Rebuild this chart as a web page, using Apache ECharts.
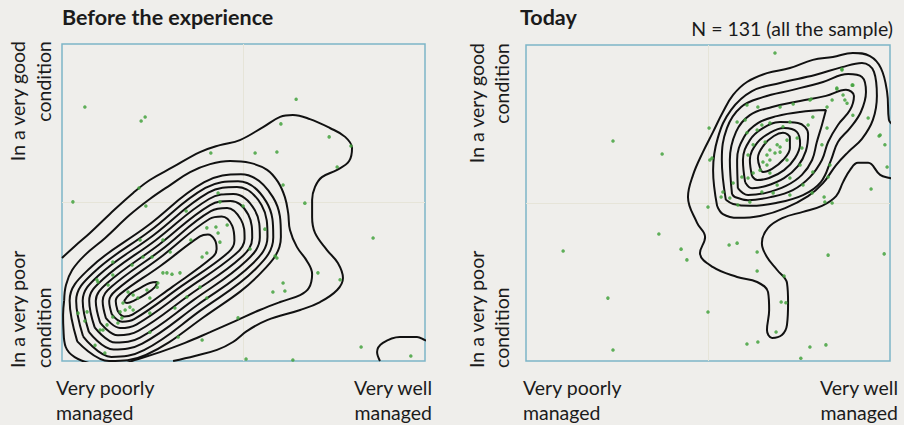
<!DOCTYPE html>
<html>
<head>
<meta charset="utf-8">
<script src="https://cdn.jsdelivr.net/npm/echarts@6/dist/echarts.min.js"></script>
<style>
html,body{margin:0;padding:0;background:#efeeeb;}
#chart{width:904px;height:425px;}
</style>
</head>
<body>
<div id="chart"></div>
<script>
// ---- Text ----
const leftTitle = 'Before the experience';
const rightTitle = 'Today';
const sampleNote = 'N = 131 (all the sample)';
const yTopLines = ['In a very good', 'condition'];
const yBottomLines = ['In a very poor', 'condition'];
const xLeftLines = ['Very poorly', 'managed'];
const xRightLines = ['Very well', 'managed'];

// ---- Scatter points (0-100 scale on both axes) ----
const beforePoints = [[6.3,80.1],[21.8,75.7],[22.9,77.0],[64.5,82.6],[60.3,74.8],[73.6,70.7],[79.6,67.8],[41.0,65.6],[53.2,65.6],[59.2,65.9],[75.8,61.2],[60.9,55.5],[21.2,54.6],[3.0,50.2],[23.1,48.9],[43.0,53.0],[43.5,50.2],[34.2,47.3],[49.9,48.9],[66.9,49.8],[85.7,38.8],[55.9,41.6],[39.9,42.0],[42.4,42.3],[43.0,40.4],[45.5,42.9],[51.8,35.3],[58.7,33.1],[59.2,32.5],[70.5,27.8],[76.6,25.6],[60.9,24.6],[58.1,21.8],[61.4,22.1],[38.0,23.3],[35.5,38.2],[43.5,37.5],[39.9,34.1],[38.6,32.8],[24.8,32.8],[27.8,38.2],[21.5,38.2],[14.0,27.1],[9.6,25.6],[19.3,30.3],[27.8,27.8],[28.9,27.8],[32.5,27.8],[26.2,23.3],[18.2,21.8],[16.8,18.3],[19.6,16.1],[24.2,15.1],[31.1,16.7],[34.4,20.2],[39.9,19.9],[48.5,13.6],[4.4,15.1],[6.9,15.5],[6.3,12.6],[10.5,9.8],[9.1,5.0],[11.8,2.5],[38.6,6.6],[24.2,9.1],[50.7,0.6],[63.6,0.3],[82.4,4.4],[96.1,1.6],[23.4,22.4],[19.6,20.8],[14.0,31.2],[22.3,32.8],[29.8,34.4],[30.3,27.4],[26.4,24.6],[24.2,19.9],[20.9,19.9],[18.7,17.0],[17.4,16.1],[16.0,15.5],[14.0,13.9],[16.5,13.6],[15.4,12.0],[12.4,11.4],[32.0,7.6],[9.9,24.9],[12.7,24.0],[11.3,9.8]];

const todayPoints = [[68.4,97.5],[23.9,69.6],[37.4,65.5],[50.3,73.7],[86.8,92.4],[85.4,86.1],[87.1,84.2],[89.8,87.3],[87.6,82.6],[78.3,82.9],[94.0,76.9],[97.0,71.2],[98.6,68.4],[99.2,61.4],[94.8,54.4],[84.1,50.0],[82.1,50.3],[36.5,40.2],[42.6,35.4],[44.2,32.0],[55.8,36.7],[58.0,37.3],[63.5,34.5],[63.5,28.5],[70.9,26.9],[83.0,33.5],[98.4,33.9],[10.2,34.8],[22.5,19.9],[23.9,3.5],[50.0,15.5],[70.1,18.7],[71.4,18.4],[68.7,9.2],[60.7,5.4],[63.7,6.0],[75.5,0.9],[78.0,4.4],[82.4,5.1],[50.0,48.7],[53.6,51.9],[50.5,63.6],[51.1,64.2],[60.7,81.0],[63.7,80.4],[69.8,80.4],[73.4,81.3],[78.0,82.6],[78.8,77.2],[82.7,80.4],[84.1,82.6],[85.4,86.4],[88.2,81.6],[89.6,87.3],[89.8,77.8],[86.8,92.1],[97.3,71.5],[81.9,51.9],[64.8,74.7],[67.0,75.3],[70.6,74.1],[77.5,74.7],[82.7,73.7],[60.7,72.2],[65.7,69.3],[69.0,68.4],[69.8,67.7],[71.7,69.9],[67.0,66.8],[66.2,65.2],[68.4,65.8],[69.8,66.1],[67.0,63.6],[65.1,63.0],[66.2,62.0],[64.3,60.4],[62.4,59.5],[67.0,59.5],[61.0,57.9],[59.3,58.2],[56.9,56.3],[54.1,53.5],[56.0,51.6],[58.2,49.4],[61.5,50.3],[64.8,53.5],[69.0,55.7],[72.5,57.9],[75.3,62.0],[78.8,59.8],[75.8,67.4],[74.5,70.6],[71.7,63.6],[62.4,68.4],[61.0,65.2],[63.5,73.1],[60.2,76.3],[58.0,75.6],[72.5,75.6],[81.3,68.4],[83.5,62.0],[83.0,58.2],[76.1,55.7],[78.6,53.2],[72.5,52.5],[67.9,53.2]];

// ---- Density contour lines, "Before the experience" (traced, same 0-100 scale) ----
const beforeLevel1 = [[17.1,18.9],[18.7,21.1],[21.5,23.0],[24.2,24.6],[26.2,24.9],[25.6,23.3],[23.1,21.1],[20.1,19.2],[17.9,18.3],[17.1,18.9]];
const beforeLevel2 = [[15.3,15.9],[14.8,18.9],[16.0,21.1],[27.0,29.9],[38.0,39.3],[40.2,39.9],[42.1,38.2],[42.6,35.3],[41.4,32.7],[30.4,23.4],[19.4,14.6],[17.2,14.0],[15.3,15.9]];
const beforeLevel3 = [[13.7,14.8],[13.0,18.9],[14.8,22.2],[27.7,33.2],[40.6,44.8],[44.0,45.6],[46.9,42.6],[47.5,37.9],[45.8,34.2],[32.9,23.6],[19.9,13.2],[16.6,12.4],[13.7,14.8]];
const beforeLevel4 = [[12.1,13.5],[11.2,18.9],[13.6,23.4],[27.3,35.0],[41.0,47.3],[45.5,48.3],[49.3,44.6],[50.3,38.5],[47.9,33.8],[34.2,22.5],[20.5,11.5],[16.0,10.4],[12.1,13.5]];
const beforeLevel5 = [[10.5,12.1],[9.3,18.9],[12.4,24.5],[26.6,36.6],[40.8,49.2],[46.4,50.5],[51.3,46.2],[52.4,38.8],[49.4,32.7],[35.2,20.9],[21.0,9.5],[15.4,8.1],[10.5,12.1]];
const beforeLevel6 = [[9.0,10.6],[7.5,19.0],[11.2,25.7],[25.8,38.1],[40.5,51.1],[47.2,52.7],[53.1,47.6],[54.5,39.0],[50.8,31.6],[36.2,19.2],[21.5,7.4],[14.8,5.8],[9.0,10.6]];
const beforeLevel7 = [[7.4,9.2],[5.7,19.0],[9.9,26.8],[25.1,39.6],[40.3,53.1],[48.2,54.9],[55.0,49.1],[56.6,39.2],[52.4,30.6],[37.2,17.6],[22.1,5.5],[14.2,3.6],[7.4,9.2]];
const beforeLevel8 = [[5.8,7.8],[3.9,19.0],[8.8,28.0],[24.2,41.0],[39.5,54.6],[48.5,56.7],[56.3,50.2],[58.2,39.0],[53.4,29.1],[38.0,15.8],[22.6,3.4],[13.6,1.3],[5.8,7.8]];
const beforeLevel9 = [[4.2,6.2],[2.1,19.1],[7.6,29.2],[23.4,42.5],[39.2,56.4],[49.3,58.9],[58.1,51.7],[60.3,39.1],[54.8,27.8],[39.0,13.8],[23.1,1.9],[13.0,0.0],[4.2,6.2]];
const beforeLevel10 = [[0.6,19.2],[1.1,24.0],[2.8,28.7],[6.3,33.4],[11.9,38.8],[18.7,46.1],[24.2,51.1],[29.8,55.5],[35.3,59.6],[40.8,62.1],[46.3,63.1],[51.8,62.5],[56.5,60.3],[59.5,56.5],[61.4,51.7],[62.3,46.7],[62.8,41.3],[64.7,36.0],[67.5,31.5],[68.9,27.4],[68.0,23.0],[65.6,20.8],[60.1,18.6],[54.5,16.1],[47.7,12.6],[40.8,9.1],[33.9,5.7],[27.0,2.8],[20.0,0.3],[14.0,-1.8],[8.0,-0.8],[3.5,1.2],[1.0,4.5],[0.4,10.0],[0.3,14.5],[0.6,19.2]];
const beforeLevel11 = [[0,32.5],[3.6,36.3],[7.7,40.4],[13.2,46.4],[19.6,53.0],[24.2,57.1],[30.6,61.2],[38.0,65.9],[43.5,68.1],[49.0,69.7],[55.4,73.8],[60.1,77.0],[63.6,77.6],[68.3,76.3],[73.8,73.5],[78.0,70.7],[79.9,67.2],[79.1,63.1],[75.8,60.3],[71.6,58.0],[69.7,54.9],[68.9,50.8],[68.9,45.4],[69.7,40.4],[73.0,35.0],[76.0,30.9],[77.4,26.2],[75.8,22.4],[71.1,18.6],[65.6,16.1],[56.5,12.9],[51.0,9.5],[47.1,6.0],[42.7,3.5],[36.6,1.6],[30.6,0]];
const beforeLevel11b = [[87.6,0],[86.8,2.8],[88.4,5.7],[93.1,7.6],[97.8,7.6],[100,6.6],[101,6.2]];

// ---- Density contour lines, "Today" ----
const todayLevel1 = [[64.3,61.1],[63.7,64.2],[65.4,68.4],[68.1,71.2],[70.6,72.2],[72.5,70.6],[72.5,67.4],[70.6,63.6],[67.6,60.8],[65.1,59.8],[64.3,61.1]];
const todayLevel2 = [[62.1,58.5],[61.5,63.6],[63.5,69.0],[67.0,72.2],[70.9,73.7],[74.4,72.5],[75.3,68.7],[73.9,64.2],[70.9,60.4],[66.8,57.9],[63.5,57.3],[62.1,58.5]];
const todayLevel3 = [[60.2,56.6],[59.6,63.6],[61.5,69.9],[65.1,73.7],[69.8,75.6],[74.7,75.3],[77.5,71.8],[76.9,66.5],[74.7,61.7],[70.9,57.9],[65.9,55.4],[62.1,54.7],[60.2,56.6]];
const todayLevel4 = [[58.2,54.7],[58.0,63.6],[59.9,70.9],[63.7,75.3],[68.9,77.5],[75.3,78.8],[82.4,79.4],[81.3,74.7],[79.9,69.3],[78.6,63.6],[75.8,58.9],[71.4,55.4],[65.9,53.2],[61.0,52.5],[58.2,54.7]];
const todayLevel5 = [[56.6,52.8],[56.0,63.6],[57.7,72.5],[61.5,77.8],[67.6,80.4],[75.3,82.3],[82.4,83.9],[87.9,85.8],[90.1,83.9],[89.0,79.4],[85.7,74.7],[83.0,69.3],[81.3,63.6],[78.0,58.2],[73.3,54.1],[67.3,51.9],[61.0,50.9],[57.4,51.9],[56.6,52.8]];
const todayLevel6 = [[54.9,51.0],[53.8,63.6],[55.2,73.7],[59.1,80.4],[65.1,83.5],[73.3,85.8],[81.6,88.3],[88.5,90.8],[92.3,89.9],[93.4,85.1],[92.0,78.8],[89.0,73.7],[85.7,69.3],[83.8,63.6],[81.0,56.6],[76.1,52.5],[68.7,50.0],[61.5,49.1],[56.9,49.7],[54.9,51.0]];
const todayLevel7 = [[52.5,49.1],[51.4,60.4],[52.7,70.6],[56.3,79.4],[62.1,85.4],[69.8,88.0],[79.4,90.5],[86.8,93.0],[92.3,94.3],[95.6,91.5],[96.4,83.9],[95.3,76.3],[92.3,70.3],[88.5,66.1],[85.2,62.0],[81.6,56.3],[77.5,52.2],[71.2,48.4],[64.3,45.9],[58.2,45.3],[54.1,46.5],[52.5,49.1]];
const todayLevel8 = [[100.5,75],[99.7,76.3],[99.2,85.1],[97.5,92.7],[94.5,96.5],[89.8,97.5],[84.3,96.2],[78.8,95.3],[72.5,92.7],[66.2,91.1],[60.7,88.3],[56.9,84.2],[54.1,78.8],[51.4,72.5],[48.6,66.1],[45.9,58.9],[44.5,51.9],[47.0,43.7],[49.2,39.2],[47.8,34.2],[51.4,29.7],[58.0,26.6],[63.5,25.0],[66.5,21.8],[66.8,16.1],[66.2,9.8],[67.6,7.3],[70.3,8.2],[71.7,11.4],[72.0,18.4],[71.7,24.7],[69.0,28.8],[66.2,32.9],[64.8,37.3],[66.5,42.1],[70.6,45.3],[76.1,47.2],[81.3,49.1],[85.2,52.2],[87.1,56.6],[89.0,60.4],[91.2,62.7],[94.0,62.7],[97.3,58.9],[100,57.9],[101,57.6]];

const beforeContours = [beforeLevel1,beforeLevel2,beforeLevel3,beforeLevel4,beforeLevel5,beforeLevel6,beforeLevel7,beforeLevel8,beforeLevel9,beforeLevel10,beforeLevel11,beforeLevel11b];
const todayContours = [todayLevel1,todayLevel2,todayLevel3,todayLevel4,todayLevel5,todayLevel6,todayLevel7,todayLevel8];

// ---- Styles ----
const FONT = 'Lato, "Open Sans", sans-serif';
const TXT = '#1b1b1b';
const BORDER = '#7db5c8';
const SPLIT = '#e6e4d8';
const LINE = '#111111';

function axisPair(idx){
  return {
    type:'value', min:0, max:100, interval:50, gridIndex:idx,
    axisLine:{show:false}, axisTick:{show:false}, axisLabel:{show:false},
    splitLine:{show:true, showMinLine:false, showMaxLine:false, lineStyle:{color:SPLIT, width:1}}
  };
}

const series = [];
beforeContours.forEach(d => series.push({
  type:'line', xAxisIndex:0, yAxisIndex:0, data:d, symbol:'none', showSymbol:false,
  smooth:0.4, clip:true, silent:true, lineStyle:{color:LINE, width:2}, z:3
}));
todayContours.forEach(d => series.push({
  type:'line', xAxisIndex:1, yAxisIndex:1, data:d, symbol:'none', showSymbol:false,
  smooth:0.4, clip:true, silent:true, lineStyle:{color:LINE, width:2}, z:3
}));
series.push({type:'scatter', xAxisIndex:0, yAxisIndex:0, data:beforePoints, symbolSize:3.5,
  itemStyle:{color:'#44a23e', opacity:0.85}, silent:true, z:4});
series.push({type:'scatter', xAxisIndex:1, yAxisIndex:1, data:todayPoints, symbolSize:3.5,
  itemStyle:{color:'#44a23e', opacity:0.85}, silent:true, z:4});

const LBL = '19.5px ' + FONT;
function txt(x, y, text, opts){
  return Object.assign({type:'text', x:x, y:y, silent:true,
    style:Object.assign({text:text, font:LBL, fill:TXT, textVerticalAlign:'middle'}, opts && opts.style)},
    opts && opts.rotation !== undefined ? {rotation:opts.rotation} : {});
}
const R = Math.PI/2;
const graphics = [
  txt(62, 17, leftTitle, {style:{font:'bold 21.5px ' + FONT, textAlign:'left'}}),
  txt(520, 17, rightTitle, {style:{font:'bold 21.5px ' + FONT, textAlign:'left'}}),
  txt(893, 28, sampleNote, {style:{font:'19.5px ' + FONT, textAlign:'right'}}),
  // left panel y labels
  txt(17, 41, yTopLines[0], {rotation:R, style:{textAlign:'right'}}),
  txt(43, 41, yTopLines[1], {rotation:R, style:{textAlign:'right'}}),
  txt(17, 368, yBottomLines[0], {rotation:R, style:{textAlign:'left'}}),
  txt(43, 368, yBottomLines[1], {rotation:R, style:{textAlign:'left'}}),
  // right panel y labels
  txt(476, 43, yTopLines[0], {rotation:R, style:{textAlign:'right'}}),
  txt(501, 43, yTopLines[1], {rotation:R, style:{textAlign:'right'}}),
  txt(476, 368, yBottomLines[0], {rotation:R, style:{textAlign:'left'}}),
  txt(501, 368, yBottomLines[1], {rotation:R, style:{textAlign:'left'}}),
  // x labels
  txt(56, 387, xLeftLines[0], {style:{textAlign:'left'}}),
  txt(56, 412, xLeftLines[1], {style:{textAlign:'left'}}),
  txt(432, 387, xRightLines[0], {style:{textAlign:'right'}}),
  txt(432, 412, xRightLines[1], {style:{textAlign:'right'}}),
  txt(523, 387, xLeftLines[0], {style:{textAlign:'left'}}),
  txt(523, 412, xLeftLines[1], {style:{textAlign:'left'}}),
  txt(898, 387, xRightLines[0], {style:{textAlign:'right'}}),
  txt(898, 412, xRightLines[1], {style:{textAlign:'right'}})
];

const chart = echarts.init(document.getElementById('chart'), null, {renderer:'svg'});
chart.setOption({
  animation:false,
  backgroundColor:'#efeeeb',
  grid:[
    {left:62, top:44, width:363, height:317, show:true, borderColor:BORDER, borderWidth:1.5, backgroundColor:'transparent'},
    {left:526, top:45, width:364, height:316, show:true, borderColor:BORDER, borderWidth:1.5, backgroundColor:'transparent'}
  ],
  xAxis:[axisPair(0), axisPair(1)],
  yAxis:[axisPair(0), axisPair(1)],
  series:series,
  graphic:graphics
});
</script>
</body>
</html>
